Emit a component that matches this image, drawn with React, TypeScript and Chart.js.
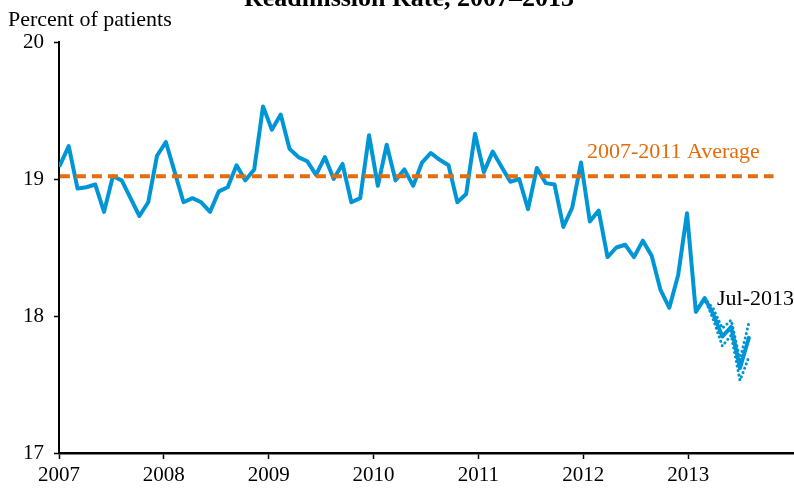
import React, { useEffect, useRef } from "react";
import { Chart, registerables } from "chart.js";

Chart.register(...registerables);

// Monthly readmission rate, Jan 2007 – Jul 2013 (percent of patients)
const readmitRate: number[] = [
  19.10, 19.24, 18.93, 18.94, 18.96, 18.76, 19.02, 18.99, 18.86, 18.73, 18.83, 19.17,
  19.27, 19.05, 18.83, 18.86, 18.83, 18.76, 18.91, 18.94, 19.10, 18.99, 19.07, 19.53,
  19.36, 19.47, 19.22, 19.16, 19.13, 19.03, 19.16, 19.00, 19.11, 18.83, 18.86, 19.32,
  18.95, 19.25, 18.99, 19.07, 18.95, 19.12, 19.19, 19.14, 19.10, 18.83, 18.89, 19.33,
  19.05, 19.20, 19.09, 18.98, 19.00, 18.78, 19.08, 18.97, 18.96, 18.65, 18.79, 19.12,
  18.69, 18.77, 18.43, 18.50, 18.52, 18.43, 18.55, 18.44, 18.19, 18.06, 18.30, 18.75,
  18.03, 18.13, 18.01, 17.85, 17.92, 17.62, 17.84,
];

// Preliminary-estimate range, Feb 2013 – Jul 2013
const rangeStartIndex = 73;
const rangeUpper: number[] = [18.13, 18.05, 17.91, 17.97, 17.68, 17.95];
const rangeLower: number[] = [18.13, 17.97, 17.78, 17.86, 17.53, 17.70];

// 2007-2011 average
const averageValue = 19.02;
const averageSpan: number[] = [0, 80.8];

const yearTicks: number[] = [2007, 2008, 2009, 2010, 2011, 2012, 2013];
const yTicks: number[] = [17, 18, 19, 20];

const titleText = "Readmission Rate, 2007\u20132013";
const yAxisTitle = "Percent of patients";
const averageLabel = "2007-2011 Average";
const lastLabel = "Jul-2013";

const BLUE = "#0096D6";
const ORANGE = "#E46C0A";
const FONT = '"Liberation Serif", "Times New Roman", serif';

const textPlugin = {
  id: "texts",
  afterDraw(chart: any) {
    const ctx = chart.ctx;
    ctx.save();
    ctx.fillStyle = "#000";
    ctx.textBaseline = "alphabetic";
    ctx.font = `bold 26px ${FONT}`;
    ctx.textAlign = "center";
    ctx.fillText(titleText, 409, 6);
    ctx.font = `22px ${FONT}`;
    ctx.textAlign = "left";
    ctx.fillText(yAxisTitle, 8, 26);
    ctx.fillStyle = ORANGE;
    ctx.fillText(averageLabel, 587, 158);
    ctx.fillStyle = "#000";
    ctx.fillText(lastLabel, 717, 305);
    ctx.restore();
  },
};

export default function App() {
  const ref = useRef<HTMLCanvasElement>(null);
  useEffect(() => {
    if (!ref.current) return;
    const chart = new Chart(ref.current, {
      type: "line",
      data: {
        datasets: [
          {
            label: "Average",
            data: averageSpan.map((x) => ({ x, y: averageValue })),
            xAxisID: "xd",
            borderColor: ORANGE,
            borderWidth: 4,
            borderDash: [10, 6],
            pointRadius: 0,
            fill: false,
          },
          {
            label: "Upper",
            data: rangeUpper.map((y, i) => ({ x: rangeStartIndex + i, y })),
            xAxisID: "xd",
            borderColor: BLUE,
            borderWidth: 3,
            borderDash: [0.1, 4.5],
            borderCapStyle: "round",
            pointRadius: 0,
            fill: false,
          },
          {
            label: "Lower",
            data: rangeLower.map((y, i) => ({ x: rangeStartIndex + i, y })),
            xAxisID: "xd",
            borderColor: BLUE,
            borderWidth: 3,
            borderDash: [0.1, 4.5],
            borderCapStyle: "round",
            pointRadius: 0,
            fill: false,
          },
          {
            label: "Readmission rate",
            data: readmitRate.map((y, i) => ({ x: i, y })),
            xAxisID: "xd",
            borderColor: BLUE,
            borderWidth: 4,
            borderJoinStyle: "round",
            borderCapStyle: "round",
            pointRadius: 0,
            tension: 0,
            fill: false,
          },
        ],
      },
      options: {
        animation: false,
        responsive: false,
        devicePixelRatio: 1,
        layout: { padding: { top: 42, right: 1, left: 0, bottom: 0 } },
        plugins: { legend: { display: false }, tooltip: { enabled: false } },
        scales: {
          xd: {
            type: "linear",
            display: false,
            min: -0.1,
            max: 83.0,
          },
          x: {
            type: "linear",
            position: "bottom",
            min: 2007,
            max: 2014,
            afterBuildTicks: (scale: any) => {
              scale.ticks = yearTicks.map((v) => ({ value: v }));
            },
            afterFit: (scale: any) => {
              scale.height = 35;
            },
            grid: {
              display: true,
              drawOnChartArea: false,
              drawTicks: true,
              tickLength: 6,
              tickColor: "#000",
              tickWidth: 1.5,
              color: "#000",
            },
            border: { display: true, color: "#000", width: 2.5 },
            ticks: {
              color: "#000",
              font: { family: FONT, size: 21 },
              padding: 4,
              maxRotation: 0,
              autoSkip: false,
              callback: (v: any) => String(v),
            },
          },
          y: {
            type: "linear",
            min: 17,
            max: 20,
            afterBuildTicks: (scale: any) => {
              scale.ticks = yTicks.map((v) => ({ value: v }));
            },
            afterFit: (scale: any) => {
              scale.width = 59;
            },
            grid: {
              display: true,
              drawOnChartArea: false,
              drawTicks: true,
              tickLength: 5,
              tickColor: "#000",
              tickWidth: 1.5,
              color: "#000",
            },
            border: { display: true, color: "#000", width: 2 },
            ticks: {
              color: "#000",
              font: { family: FONT, size: 21 },
              padding: 10,
              callback: (v: any) => String(v),
            },
          },
        },
      },
      plugins: [textPlugin],
    });
    return () => chart.destroy();
  }, []);
  return (
    <div style={{ position: "fixed", left: 0, top: 0, width: 794, height: 488, background: "#fff" }}>
      <canvas ref={ref} width={794} height={488} style={{ display: "block" }} />
    </div>
  );
}
